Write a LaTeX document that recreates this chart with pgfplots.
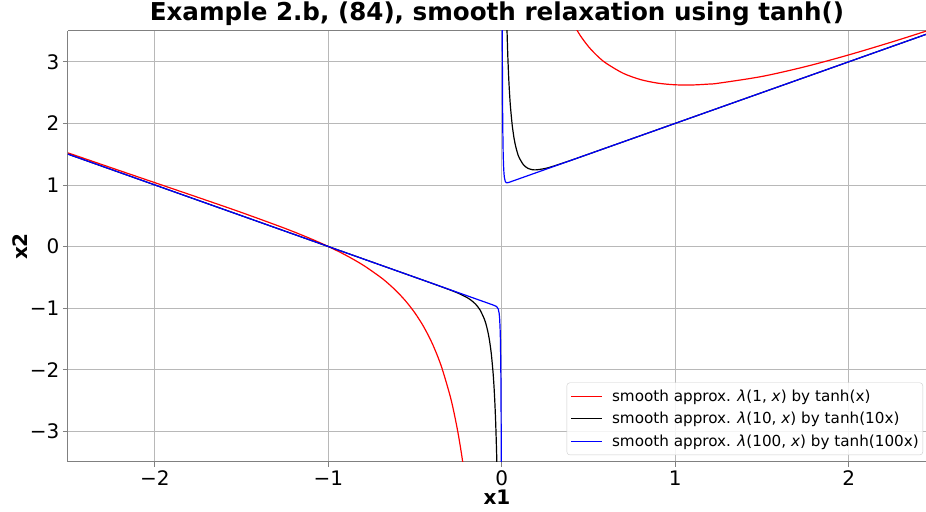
\documentclass[border=0pt]{standalone}
\usepackage{fontspec}
\setmainfont{DejaVu Sans}
\usepackage{pgfplots}
\pgfplotsset{compat=1.18}
\begin{document}
\begin{tikzpicture}
\begin{axis}[
  scale only axis, width=858pt, height=431pt,
  xmin=-2.5, xmax=2.445, ymin=-3.5, ymax=3.5,
  axis x line*=box, axis y line*=left,
  axis line style={-, color=gray, line width=1pt},
  xtick={-2,-1,0,1,2}, xticklabels={−2,−1,0,1,2},
  ytick={-3,-2,-1,0,1,2,3}, yticklabels={−3,−2,−1,0,1,2,3},
  xtick pos=bottom, ytick pos=left,
  tick label style={font=\fontsize{20}{24}\selectfont, text=black},
  tick align=outside, major tick length=5pt,
  major tick style={color=gray, line width=0.8pt},
  grid=major, grid style={color=black!28, line width=0.8pt},
  title={Example 2.b, (84), smooth relaxation using tanh()},
  title style={font=\bfseries\fontsize{24.6}{28}\selectfont, at={(rel axis cs:0.5,1)}, anchor=base, yshift=4pt},
  xlabel={x1}, ylabel={x2},
  xlabel style={font=\bfseries\fontsize{20}{24}\selectfont, at={(rel axis cs:0.5,0)}, anchor=base, yshift=-43pt},
  ylabel style={font=\bfseries\fontsize{20}{24}\selectfont, at={(rel axis cs:0,0.5)}, anchor=center, yshift=48pt},
  legend style={at={(rel axis cs:0.9965,0.016)}, anchor=south east,
    font=\fontsize{15.2}{18}\selectfont, draw=black!20, rounded corners=3pt,
    fill=white, fill opacity=0.85, text opacity=1, row sep=5.5pt,
    inner xsep=2pt, inner ysep=5pt},
  legend cell align=left,
  legend image code/.code={\draw[#1] (0pt,0pt) -- (31pt,0pt); \path (-2pt,0pt) (38pt,0pt);},
]
\coordinate (sw) at (rel axis cs:0,0);
\coordinate (ne) at (rel axis cs:1,1);
% red: k = 1
\addplot[red, line width=1.2pt, smooth, tension=0.5] coordinates {
(-2.5,1.5204)(-2.25,1.2781)(-2,1.0373)(-1.75,0.7967)(-1.5,0.5524)(-1.25,0.2947)(-1.1,0.1249)(-1,0)
(-0.9,-0.1396)(-0.8,-0.3012)(-0.7,-0.4964)(-0.65,-0.6122)(-0.6,-0.7448)(-0.55,-0.8991)(-0.5,-1.0820)
(-0.45,-1.3036)(-0.4,-1.5792)(-0.35,-1.9323)(-0.3,-2.4029)(-0.275,-2.7025)(-0.25,-3.0622)(-0.225,-3.5025)(-0.2,-4.0531)};
\addlegendentry{smooth approx. \textit{λ}(1, \textit{x}) by tanh(x)}
\addplot[red, line width=1.2pt, forget plot, smooth, tension=0.5] coordinates {
(0.35,4.0133)(0.4,3.6847)(0.45,3.4368)(0.5,3.2459)(0.55,3.0968)(0.6,2.9792)(0.7,2.8128)(0.8,2.7107)
(0.9,2.6525)(1,2.6261)(1.1,2.6234)(1.2,2.6390)(1.25,2.6524)(1.5,2.7620)(1.75,2.9213)(2,3.1119)(2.25,3.3230)(2.45,3.5018)(2.5,3.5475)};
% black: k = 10
\addplot[black, line width=1.2pt, smooth, tension=0.4] coordinates {
(-2.5,1.5)(-1,0)(-0.5,-0.5001)(-0.4,-0.6004)(-0.3,-0.7035)(-0.25,-0.7602)(-0.2,-0.8298)(-0.175,-0.8764)
(-0.15,-0.9391)(-0.125,-1.0315)(-0.1,-1.1817)(-0.09,-1.2704)(-0.08,-1.3855)(-0.07,-1.5388)(-0.06,-1.7503)
(-0.05,-2.0557)(-0.045,-2.2636)(-0.04,-2.5266)(-0.035,-2.8688)(-0.03,-3.3298)(-0.0275,-3.6252)(-0.025,-3.9809)};
\addlegendentry{smooth approx. \textit{λ}(10, \textit{x}) by tanh(10x)}
\addplot[black, line width=1.2pt, forget plot, smooth, tension=0.4] coordinates {
(0.02,5.1677)(0.025,4.1851)(0.03,3.5358)(0.035,3.0769)(0.04,2.7372)(0.045,2.4769)(0.05,2.2721)(0.06,1.9737)
(0.07,1.7704)(0.08,1.6264)(0.09,1.5217)(0.1,1.4443)(0.125,1.3262)(0.15,1.2705)(0.175,1.2482)(0.2,1.2448)
(0.25,1.2670)(0.3,1.3065)(0.4,1.4009)(0.5,1.5001)(1,2)(2.5,3.5)};
% blue: k = 100
\addplot[blue, line width=1.2pt] coordinates {
(-2.5,1.5)(-1,0)(-0.1,-0.9)(-0.05,-0.9501)(-0.03,-0.9748)(-0.02,-1.0166)(-0.015,-1.0882)(-0.0125,-1.1641)
(-0.01,-1.2999)(-0.008,-1.4939)(-0.006,-1.8509)(-0.005,-2.1531)(-0.004,-2.6214)(-0.0035,-2.9624)(-0.003,-3.4225)(-0.0025,-4.0728)};
\addlegendentry{smooth approx. \textit{λ}(100, \textit{x}) by tanh(100x)}
\addplot[blue, line width=1.2pt, forget plot] coordinates {
(0.0025,4.0932)(0.003,3.4431)(0.0035,2.9833)(0.004,2.6424)(0.005,2.1748)(0.006,1.8732)(0.008,1.5180)(0.01,1.3262)
(0.0125,1.1936)(0.015,1.1214)(0.02,1.0581)(0.025,1.0389)(0.03,1.0351)(0.04,1.0407)(0.05,1.0501)(0.1,1.1)(2.5,3.5)};
\end{axis}
\pgfresetboundingbox
\path[use as bounding box] ([shift={(-68pt,-50pt)}]sw) rectangle ([shift={(0pt,31pt)}]ne);
\end{tikzpicture}
\end{document}
